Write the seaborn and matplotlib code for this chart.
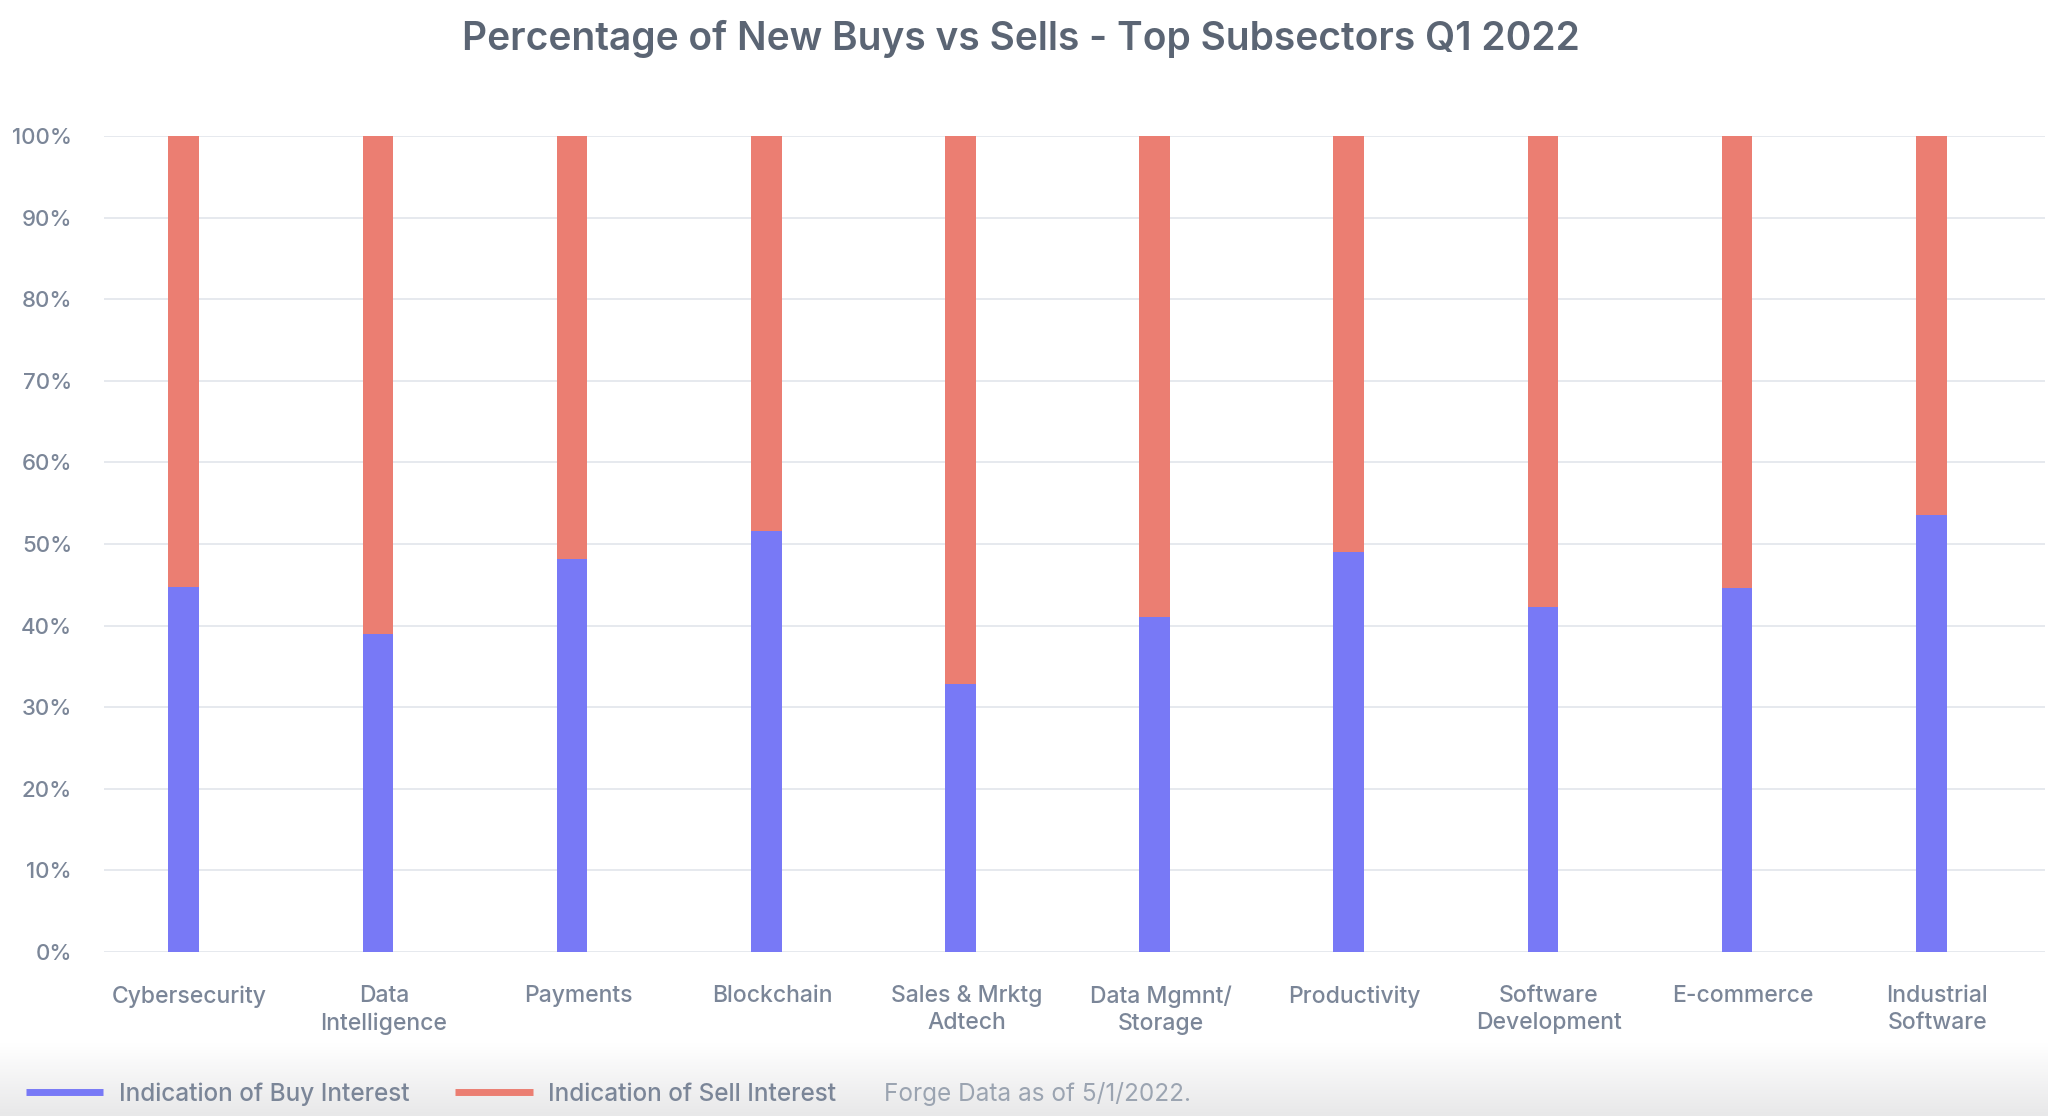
import numpy as np
import pandas as pd
import matplotlib
matplotlib.use('Agg')
import matplotlib.pyplot as plt
import matplotlib.transforms as mtransforms
from matplotlib.lines import Line2D
from matplotlib.ticker import FuncFormatter
import seaborn as sns

# data
categories = ['Cybersecurity', 'Data\nIntelligence', 'Payments', 'Blockchain',
              'Sales & Mrktg\nAdtech', 'Data Mgmnt/\nStorage', 'Productivity',
              'Software\nDevelopment', 'E-commerce', 'Industrial\nSoftware']
buy_pct = [44.7, 39.0, 48.2, 51.6, 32.8, 41.0, 49.0, 42.3, 44.6, 53.6]
sell_pct = [100 - b for b in buy_pct]

buy_color = '#7879F6'
sell_color = '#EB7E72'
text_color = '#7b8698'

sns.set_theme(style='white')
plt.rcParams['font.family'] = ['Inter', 'DejaVu Sans']

df = pd.DataFrame({'category': categories, 'buy': buy_pct, 'sell': sell_pct})
df['total'] = df['buy'] + df['sell']

fig = plt.figure(figsize=(20.48, 11.16), dpi=100)
fig.patch.set_facecolor('white')

# soft grey band behind the legend (white at top, grey at bottom)
bg = fig.add_axes([0, 0, 1, 0.065], zorder=-5)
grad = np.linspace(0, 1, 100).reshape(-1, 1)
bg.imshow(grad, aspect='auto', cmap=matplotlib.colors.LinearSegmentedColormap.from_list(
    'g', ['#e8e8e9', '#ffffff']), extent=[0, 1, 0, 1], origin='lower')
bg.axis('off')

ax = fig.add_axes([0.0508, 0.147, 0.9477, 0.7311])
ax.set_facecolor('none')

# stacked: full column in sell colour, buy share on top of it from the bottom
sns.barplot(data=df, x='category', y='total', color=sell_color, width=0.158,
            saturation=1, linewidth=0, ax=ax, zorder=3)
sns.barplot(data=df, x='category', y='buy', color=buy_color, width=0.158,
            saturation=1, linewidth=0, ax=ax, zorder=4)

ax.set_xlim(-0.41, 9.585)
ax.set_ylim(0, 100)
ax.set_yticks(np.arange(0, 101, 10))
ax.yaxis.set_major_formatter(FuncFormatter(lambda v, p: f'{v:.0f}%'))
ax.yaxis.grid(True, color='#e6e9ee', linewidth=1.4, zorder=0)
ax.set_axisbelow(True)
for s in ax.spines.values():
    s.set_visible(False)
ax.set_xlabel('')
ax.set_ylabel('')
ax.tick_params(axis='y', length=0, pad=23, labelsize=16, labelcolor=text_color)
ax.tick_params(axis='x', length=0, pad=24, labelsize=16.5, labelcolor=text_color)

offset = mtransforms.ScaledTranslation(6 / 100, 0, fig.dpi_scale_trans)
for lab in ax.get_xticklabels():
    lab.set_linespacing(1.3)
    lab.set_fontweight('medium')
    lab.set_transform(lab.get_transform() + offset)
for lab in ax.get_yticklabels():
    lab.set_fontweight('medium')

fig.text(0.4985, 0.965, 'Percentage of New Buys vs Sells - Top Subsectors Q1 2022',
         ha='center', va='center', fontsize=28, fontweight='semibold', color='#5b6574')

handles = [Line2D([], [], color=buy_color, lw=5, solid_capstyle='butt'),
           Line2D([], [], color=sell_color, lw=5, solid_capstyle='butt')]
leg = fig.legend(handles, ['Indication of Buy Interest', 'Indication of Sell Interest'],
                 loc='center left', bbox_to_anchor=(0.0125, 0.0195), ncol=2, frameon=False,
                 fontsize=17.5, labelcolor=text_color, handlelength=3.2, handletextpad=0.65,
                 columnspacing=1.85, borderpad=0, borderaxespad=0)
for t in leg.get_texts():
    t.set_fontweight('medium')
fig.text(0.4315, 0.0195, 'Forge Data as of 5/1/2022.', ha='left', va='center',
         fontsize=17.5, color='#9ba4b1')

fig.savefig('out.png', dpi=100)
